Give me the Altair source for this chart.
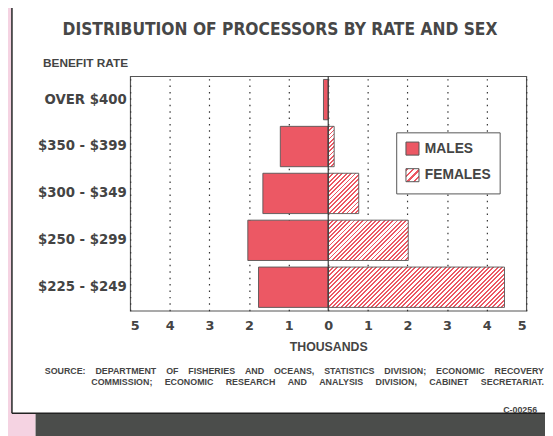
import altair as alt
import pandas as pd

# ---------------- data ----------------
categories = ["OVER $400", "$350 - $399", "$300 - $349", "$250 - $299", "$225 - $249"]
males = [0.12, 1.21, 1.65, 2.03, 1.76]      # thousands
females = [0.0, 0.15, 0.77, 2.02, 4.45]     # thousands
sexes = ["MALES", "FEMALES"]
x_ticks = [-5, -4, -3, -2, -1, 0, 1, 2, 3, 4, 5]

title_text = "DISTRIBUTION OF PROCESSORS BY RATE AND SEX"
y_title = "BENEFIT RATE"
x_title = "THOUSANDS"
NB = "\u00a0"
source_words_1 = ["SOURCE:", "DEPARTMENT", "OF", "FISHERIES", "AND", "OCEANS,",
                  "STATISTICS", "DIVISION;", "ECONOMIC", "RECOVERY"]
source_words_2 = ["COMMISSION;", "ECONOMIC", "RESEARCH", "AND", "ANALYSIS",
                  "DIVISION,", "CABINET", "SECRETARIAT."]
code_label = "C-00256"

# ---------------- styles ----------------
W, H = 402, 238
P_IN, P_OUT = 0.14, 0.07
RED = "#ec5864"
TXT = "#444444"
EDGE = "#555555"
PINK = "#f5d3e2"
DARK = "#4b4d4b"
F_NARROW = "Liberation Sans Narrow, DejaVu Sans Condensed, Liberation Sans, sans-serif"
F_WIDE = "DejaVu Sans, Liberation Sans, sans-serif"
F_STD = "Liberation Sans, Arial, sans-serif"

px_per_unit = W / 10.0
band_h = H / (len(categories) - P_IN + 2 * P_OUT) * (1 - P_IN)


def hatch_stops(n, frac=0.42):
    stops = []
    for i in range(n):
        a, b, c = i / n, (i + frac) / n, (i + 1) / n
        stops += [{"offset": a, "color": RED}, {"offset": b, "color": RED},
                  {"offset": b, "color": "#ffffff"}, {"offset": c, "color": "#ffffff"}]
    return stops


def hatch_for(value, period=4.4):
    w = value * px_per_unit
    h = band_h
    k = (w + h) * w / (w * w + h * h)
    n = max(1, round((w + h) / period))
    return alt.LinearGradient(gradient="linear", x1=0, y1=0, x2=k, y2=k * h / w,
                              stops=hatch_stops(n))


legend_stops = ", ".join(
    "{offset: %.4f, color: '%s'}" % (s["offset"], s["color"]) for s in hatch_stops(4)
)
legend_hatch = alt.ExprRef(
    "{gradient: 'linear', x1: 0, y1: 0, x2: 1, y2: 1, stops: [%s]}" % legend_stops
)

rows = []
for c, m, f in zip(categories, males, females):
    rows.append({"rate": c, "sex": "MALES", "start": -m, "end": 0.0})
    rows.append({"rate": c, "sex": "FEMALES", "start": 0.0, "end": f})
df = pd.DataFrame(rows)

x_enc = alt.X(
    "start:Q",
    scale=alt.Scale(domain=[-5, 5], nice=False, zero=False),
    axis=alt.Axis(
        values=x_ticks, labelExpr="abs(datum.value)", title=x_title,
        domain=False, ticks=False, grid=True, gridDash=[1.5, 5], gridColor="#333333",
        gridWidth=1.2, labelFont=F_WIDE, labelFontWeight="bold", labelFontSize=13,
        labelColor=TXT, labelPadding=9, titleFont=F_STD, titleFontWeight="bold",
        titleFontSize=12.5, titleColor=TXT, titlePadding=8,
    ),
)
y_enc = alt.Y(
    "rate:N",
    sort=categories,
    scale=alt.Scale(domain=categories, paddingInner=P_IN, paddingOuter=P_OUT),
    axis=alt.Axis(
        title=y_title, domain=False, ticks=False, grid=False,
        labelFont=F_WIDE, labelFontWeight="bold", labelFontSize=13.5, labelColor=TXT,
        labelPadding=4, titleFont=F_STD, titleFontWeight="bold", titleFontSize=12,
        titleColor=TXT, titleAngle=0, titleAlign="left", titleBaseline="middle",
        titleX=-89, titleY=-14,
    ),
)

male_layer = alt.Chart(df).transform_filter(alt.datum.sex == "MALES").mark_bar(
    stroke=EDGE, strokeWidth=0.9
).encode(
    x=x_enc, x2="end:Q", y=y_enc,
    color=alt.Color(
        "sex:N",
        scale=alt.Scale(domain=sexes, range=[RED, legend_hatch]),
        legend=alt.Legend(
            title=None, orient="none", legendX=270, legendY=57,
            symbolType="square", symbolSize=175, symbolStrokeColor=EDGE,
            symbolStrokeWidth=1, symbolOpacity=1,
            labelFont=F_STD, labelFontWeight="bold", labelFontSize=14,
            labelColor=TXT, labelOffset=5, rowPadding=8, padding=9,
            strokeColor=EDGE, fillColor="white",
        ),
    ),
)

female_layers = []
for c, f in zip(categories, females):
    if f <= 0:
        continue
    female_layers.append(
        alt.Chart(df).transform_filter(
            (alt.datum.sex == "FEMALES") & (alt.datum.rate == c)
        ).mark_bar(fill=hatch_for(f), stroke=EDGE, strokeWidth=0.9).encode(
            x=x_enc, x2="end:Q", y=y_enc
        )
    )

zero_rule = alt.Chart(pd.DataFrame({"z": [0.0]})).mark_rule(
    color="#3a3a3a", strokeWidth=1.2
).encode(x=alt.X("z:Q"))

one = pd.DataFrame({"k": [1]})
deco = alt.Chart(one)
pink_left = deco.mark_rect(fill=PINK).encode(
    x=alt.value(-130), x2=alt.value(-120.5), y=alt.value(-80), y2=alt.value(380))
pink_bottom = deco.mark_rect(fill=PINK).encode(
    x=alt.value(-130), x2=alt.value(-96), y=alt.value(342), y2=alt.value(380))
dark_band = deco.mark_rect(fill=DARK).encode(
    x=alt.value(-96), x2=alt.value(440), y=alt.value(342.7), y2=alt.value(380))
border_v = deco.mark_rule(color="#222222", strokeWidth=1.5).encode(
    x=alt.value(-120), y=alt.value(-80), y2=alt.value(342))
border_h = deco.mark_rule(color="#222222", strokeWidth=1.5).encode(
    x=alt.value(-120), x2=alt.value(440), y=alt.value(342))

title_mark = deco.mark_text(font=F_NARROW, fontWeight="bold", fontSize=17.5,
                            color="#474747", align="center",
                            baseline="alphabetic").encode(
    x=alt.value(152), y=alt.value(-42), text=alt.value(title_text))
src1 = deco.mark_text(font=F_STD, fontWeight="bold", fontSize=9, color=TXT,
                      align="right", baseline="middle").encode(
    x=alt.value(420), y=alt.value(299), text=alt.value((NB * 4).join(source_words_1)))
src2 = deco.mark_text(font=F_STD, fontWeight="bold", fontSize=9, color=TXT,
                      align="right", baseline="middle").encode(
    x=alt.value(420), y=alt.value(310.5), text=alt.value((NB * 5).join(source_words_2)))
code = deco.mark_text(font=F_STD, fontWeight="bold", fontSize=9, color=TXT,
                      align="right", baseline="middle").encode(
    x=alt.value(413), y=alt.value(339), text=alt.value(code_label))

chart = alt.layer(
    pink_left, pink_bottom, dark_band, border_v, border_h,
    male_layer, *female_layers, zero_rule, title_mark, src1, src2, code,
).properties(
    width=W, height=H,
    padding={"left": 124, "top": 66, "right": 19, "bottom": 124},
    autosize=alt.AutoSizeParams(type="none"),
    background="white",
).configure_view(stroke=EDGE, strokeWidth=1.2)

chart.save("out.html", embed_options={"renderer": "svg", "actions": False})
